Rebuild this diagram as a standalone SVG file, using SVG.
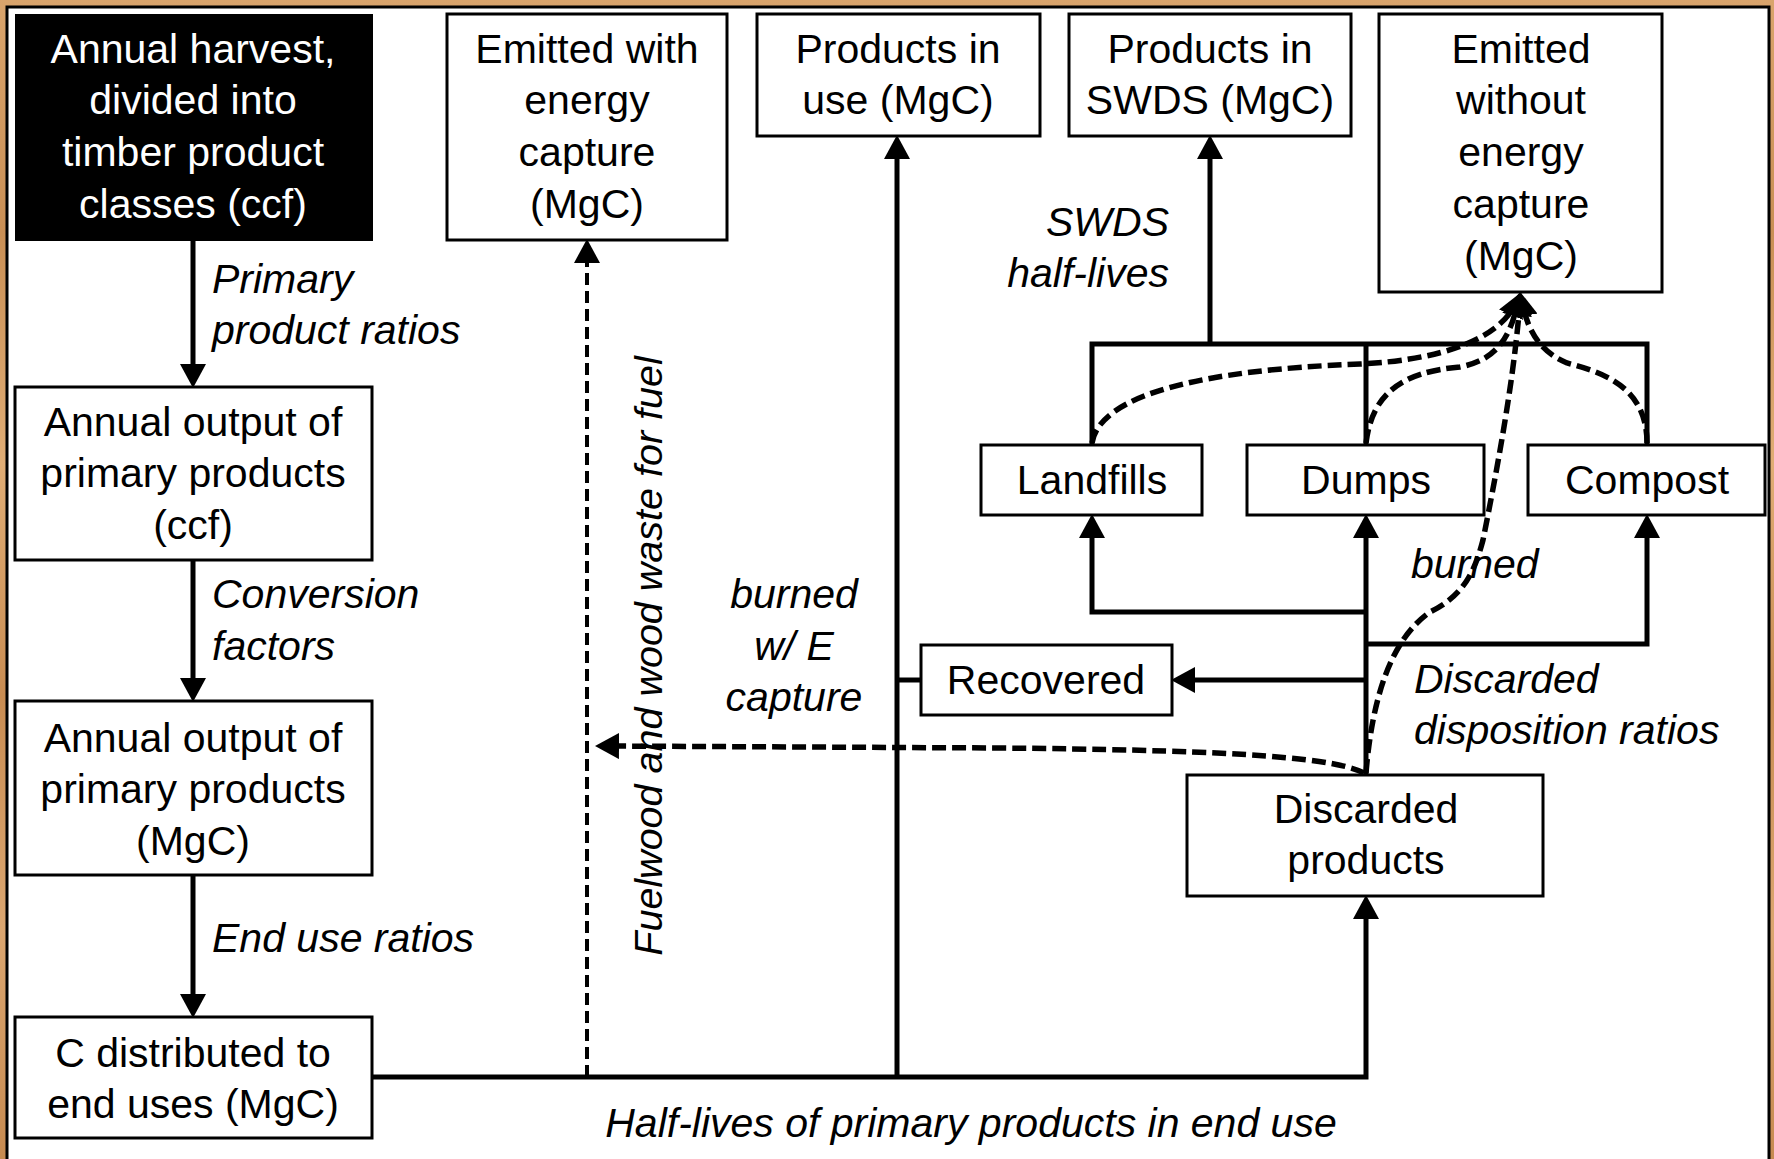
<svg xmlns="http://www.w3.org/2000/svg" width="1774" height="1159" viewBox="0 0 1774 1159">
<defs>
<style>
.box{fill:#fff;stroke:#000;stroke-width:3}
.t{font-family:"Liberation Sans",Arial,sans-serif;font-size:41px;fill:#000;text-anchor:middle}
.w{fill:#fff}
.i{font-family:"Liberation Sans",Arial,sans-serif;font-size:41px;font-style:italic;fill:#000}
.c{fill:none;stroke:#000;stroke-width:5}
.d{fill:none;stroke:#000;stroke-width:5.5;stroke-dasharray:14 6}
.dv{fill:none;stroke:#000;stroke-width:4;stroke-dasharray:12 6}
</style>
<marker id="ah" markerUnits="userSpaceOnUse" markerWidth="24" markerHeight="26" viewBox="0 0 24 26" refX="15" refY="13" orient="auto">
<path d="M0,0 L24,13 L0,26 Z" fill="#000"/>
</marker>
<linearGradient id="wood" x1="0" y1="0" x2="0" y2="1">
<stop offset="0" stop-color="#d9a46c"/>
<stop offset="0.2" stop-color="#c98f55"/>
<stop offset="0.4" stop-color="#e0ad75"/>
<stop offset="0.6" stop-color="#c88c52"/>
<stop offset="0.8" stop-color="#dba670"/>
<stop offset="1" stop-color="#c68a50"/>
</linearGradient>
</defs>
<rect x="0" y="0" width="1774" height="1159" fill="url(#wood)"/>
<rect x="7" y="7" width="1762" height="1170" fill="#fff" stroke="#000" stroke-width="3"/>

<g id="connectors">
<path class="c" d="M193,241 V379" marker-end="url(#ah)"/>
<path class="c" d="M193,560 V693" marker-end="url(#ah)"/>
<path class="c" d="M193,875 V1009" marker-end="url(#ah)"/>
<path class="c" d="M372,1077 H1366 V904" marker-end="url(#ah)"/>
<path class="c" d="M897,1077 V144" marker-end="url(#ah)"/>
<path class="dv" d="M587,1077 V248" marker-end="url(#ah)"/>
<path class="c" d="M1366,680 H1180" marker-end="url(#ah)"/>
<path class="c" d="M921,680 H897"/>
<path class="c" d="M1366,775 V523" marker-end="url(#ah)"/>
<path class="c" d="M1366,612 H1092 V523" marker-end="url(#ah)"/>
<path class="c" d="M1366,644 H1647 V523" marker-end="url(#ah)"/>
<path class="c" d="M1092,445 V344 H1647 V445"/>
<path class="c" d="M1366,445 V344"/>
<path class="c" d="M1210,344 V144" marker-end="url(#ah)"/>
<path class="d" d="M1364,773 C1330,755 1200,750 1000,748 L604,746" marker-end="url(#ah)"/>
<path class="d" d="M1092,443 C1100,395 1200,370 1360,364 C1440,360 1500,340 1517,301" marker-end="url(#ah)"/>
<path class="d" d="M1366,443 C1372,395 1400,372 1460,367 C1495,360 1510,340 1518,301" marker-end="url(#ah)"/>
<path class="d" d="M1647,443 C1647,385 1600,372 1567,363 C1540,352 1527,330 1522,301" marker-end="url(#ah)"/>
<path class="d" d="M1366,773 C1372,700 1390,640 1430,612 C1465,595 1475,570 1483,540 C1497,470 1514,380 1520,301" marker-end="url(#ah)"/>
</g>

<g id="labels">
<text class="i" x="212" y="293">Primary</text>
<text class="i" x="212" y="344">product ratios</text>
<text class="i" x="212" y="608">Conversion</text>
<text class="i" x="212" y="660">factors</text>
<text class="i" x="212" y="952">End use ratios</text>
<text class="i" x="1169" y="236" text-anchor="end">SWDS</text>
<text class="i" x="1169" y="287" text-anchor="end">half-lives</text>
<text class="i" x="794" y="608" text-anchor="middle">burned</text>
<text class="i" x="794" y="660" text-anchor="middle">w/ E</text>
<text class="i" x="794" y="711" text-anchor="middle">capture</text>
<text class="i" x="1411" y="578">burned</text>
<text class="i" x="1414" y="693">Discarded</text>
<text class="i" x="1414" y="744">disposition ratios</text>
<text class="i" x="971" y="1137" text-anchor="middle">Half-lives of primary products in end use</text>
<text class="i" text-anchor="middle" style="font-size:39.5px" transform="translate(662,656) rotate(-90)">Fuelwood and wood waste for fuel</text>
</g>

<g id="harvest">
<rect x="15" y="14" width="358" height="227" fill="#000"/>
<text class="t w" x="193" y="63">Annual harvest,</text>
<text class="t w" x="193" y="114">divided into</text>
<text class="t w" x="193" y="166">timber product</text>
<text class="t w" x="193" y="218">classes (ccf)</text>
</g>
<g id="output-ccf">
<rect class="box" x="15" y="387" width="357" height="173"/>
<text class="t" x="193" y="436">Annual output of</text>
<text class="t" x="193" y="487">primary products</text>
<text class="t" x="193" y="539">(ccf)</text>
</g>
<g id="output-mgc">
<rect class="box" x="15" y="701" width="357" height="174"/>
<text class="t" x="193" y="752">Annual output of</text>
<text class="t" x="193" y="803">primary products</text>
<text class="t" x="193" y="855">(MgC)</text>
</g>
<g id="distributed">
<rect class="box" x="15" y="1017" width="357" height="121"/>
<text class="t" x="193" y="1067">C distributed to</text>
<text class="t" x="193" y="1118">end uses (MgC)</text>
</g>
<g id="emitted-with">
<rect class="box" x="447" y="14" width="280" height="226"/>
<text class="t" x="587" y="63">Emitted with</text>
<text class="t" x="587" y="114">energy</text>
<text class="t" x="587" y="166">capture</text>
<text class="t" x="587" y="218">(MgC)</text>
</g>
<g id="in-use">
<rect class="box" x="757" y="14" width="283" height="122"/>
<text class="t" x="898" y="63">Products in</text>
<text class="t" x="898" y="114">use (MgC)</text>
</g>
<g id="in-swds">
<rect class="box" x="1069" y="14" width="282" height="122"/>
<text class="t" x="1210" y="63">Products in</text>
<text class="t" x="1210" y="114">SWDS (MgC)</text>
</g>
<g id="emitted-without">
<rect class="box" x="1379" y="14" width="283" height="278"/>
<text class="t" x="1521" y="63">Emitted</text>
<text class="t" x="1521" y="114">without</text>
<text class="t" x="1521" y="166">energy</text>
<text class="t" x="1521" y="218">capture</text>
<text class="t" x="1521" y="270">(MgC)</text>
</g>
<g id="landfills">
<rect class="box" x="981" y="445" width="221" height="70"/>
<text class="t" x="1092" y="494">Landfills</text>
</g>
<g id="dumps">
<rect class="box" x="1247" y="445" width="237" height="70"/>
<text class="t" x="1366" y="494">Dumps</text>
</g>
<g id="compost">
<rect class="box" x="1528" y="445" width="237" height="70"/>
<text class="t" x="1647" y="494">Compost</text>
</g>
<g id="recovered">
<rect class="box" x="921" y="645" width="251" height="70"/>
<text class="t" x="1046" y="694">Recovered</text>
</g>
<g id="discarded">
<rect class="box" x="1187" y="775" width="356" height="121"/>
<text class="t" x="1366" y="823">Discarded</text>
<text class="t" x="1366" y="874">products</text>
</g>
</svg>
